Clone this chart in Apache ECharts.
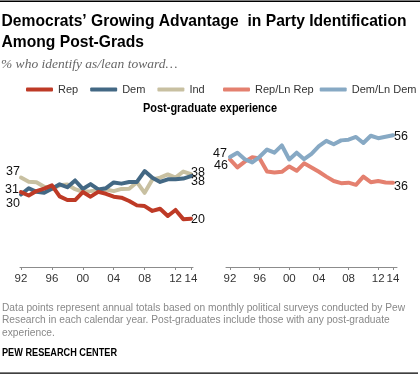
<!DOCTYPE html>
<html><head><meta charset="utf-8">
<script src="https://cdn.jsdelivr.net/npm/echarts@6/dist/echarts.min.js"></script>
<style>html,body{margin:0;padding:0;background:#fff}#c{width:420px;height:375px}</style>
</head><body><div id="c"></div>
<script>
const years = [1992,1993,1994,1995,1996,1997,1998,1999,2000,2001,2002,2003,2004,2005,2006,2007,2008,2009,2010,2011,2012,2013,2014];
const tickYears = [1992,1996,2000,2004,2008,2012,2014];
const rep = [31,29.6,31.4,32.4,33.8,29.2,27.7,27.7,31.0,29.1,31.1,30.3,29.1,28.7,27.3,25.5,25.2,23.2,24.1,21.1,23.6,19.8,20];
const dem = [30,32.6,31.1,30.7,32.4,34.2,33.0,35.8,32.3,34.3,32.1,32.6,35.0,34.5,35.2,35.2,39.7,36.9,35.2,36.3,36.3,36.6,37.6];
const ind = [37,35.3,35.1,33.2,32.3,33.8,34.1,32.2,31.1,31.4,31.8,32.1,31.4,32.3,32.4,35.1,30.7,36.2,37.0,38.3,37.0,39.5,38.4];
const repLean = [46,42.7,45.1,46.9,46.4,41.0,40.6,40.9,43.1,41.3,44.4,42.7,40.9,38.9,37.1,36.2,36.4,35.5,38.9,36.6,37.1,36.5,36.4];
const demLean = [47,48.8,46.1,44.8,47.1,50.1,48.8,51.8,46.0,48.8,46.1,48.3,51.5,53.7,52.3,53.9,54.2,55.3,52.8,55.8,54.8,55.4,56];

const titleLines = ['Democrats’ Growing Advantage  in Party Identification', 'Among Post-Grads'];
const subtitle = '% who identify as/lean toward…';
const panelTitle = 'Post-graduate experience';
const noteLines = ['Data points represent annual totals based on monthly political surveys conducted by Pew', 'Research in each calendar year. Post-graduates include those with any post-graduate', 'experience.'];
const source = 'PEW RESEARCH CENTER';

const SANS = '"Liberation Sans", Arial, sans-serif';
const chart = echarts.init(document.getElementById('c'), null, {renderer:'canvas'});

const mctx = document.createElement('canvas').getContext('2d');
function fit(text, font, target){ mctx.font = font; return target / mctx.measureText(text).width; }

const lblStyle = {color:'#111', fontSize:12.5, fontFamily:SANS, formatter: p => Math.round(p.value[1])};
function withEnds(vals, startLbl, endLbl){
  const d = vals.map((v,i)=>({value:[years[i], v]}));
  if (startLbl) d[0].label = Object.assign({show:true, position:'left'}, lblStyle, startLbl);
  if (endLbl) d[d.length-1].label = Object.assign({show:true, position:'right'}, lblStyle, endLbl);
  return d;
}
function line(name, color, vals, gi, startLbl, endLbl, z){
  return {type:'line', name, xAxisIndex:gi, yAxisIndex:gi, symbol:'circle', symbolSize:0, showSymbol:true, z,
    data: withEnds(vals, startLbl, endLbl),
    label:{show:false},
    lineStyle:{color, width:4, cap:'round', join:'round'}, itemStyle:{color},
    emphasis:{disabled:true}, silent:true};
}
function xAx(gi, min, max){
  return {type:'value', gridIndex:gi, min, max,
    axisLine:{show:true, lineStyle:{color:'#8c8c8c', width:1}},
    axisTick:{show:true, customValues:tickYears, length:3, lineStyle:{color:'#8c8c8c'}},
    axisLabel:{customValues:tickYears, formatter:v=>String(v).slice(2), color:'#333', fontSize:11.5, fontFamily:SANS, margin:6},
    splitLine:{show:false}};
}
const C = {rep:'#BE3A26', dem:'#436884', ind:'#C8C0A1', repL:'#E4806F', demL:'#87A9C4'};

const titleFont = 'bold 17px ' + SANS;
const noteFont = '11.5px ' + SANS;
const srcFont = 'bold 11.5px ' + SANS;
const panelFont = 'bold 12.5px ' + SANS;
const legendText = {fontSize:11, color:'#333', fontFamily:SANS};

chart.setOption({
  animation:false,
  title:[
    {text:subtitle, left:1, top:57, padding:0,
     textStyle:{fontFamily:'"Liberation Serif", serif', fontStyle:'italic', fontWeight:'normal', fontSize:13.5, color:'#666'}}
  ],
  legend:[
    {data:['Rep','Dem','Ind'], left:26, top:84, width:196, padding:0, itemWidth:27, itemHeight:4, itemGap:12, icon:'roundRect',
     textStyle:legendText, selectedMode:false},
    {data:['Rep/Ln Rep','Dem/Ln Dem'], left:223, top:84, width:197, padding:0, itemWidth:27, itemHeight:4, itemGap:6, icon:'roundRect',
     textStyle:legendText, selectedMode:false}
  ],
  grid:[
    {left:20, top:122, width:173, height:145},
    {left:226, top:122, width:171, height:145}
  ],
  xAxis:[xAx(0, 1991.87, 2014.26), xAx(1, 1991.46, 2014.54)],
  yAxis:[
    {type:'value', gridIndex:0, min:0, max:60, show:false},
    {type:'value', gridIndex:1, min:1.5, max:61.5, show:false}
  ],
  series:[
    line('Ind', C.ind, ind, 0, {distance:1, offset:[0,-6]}, {distance:0, offset:[0,-2]}, 2),
    line('Dem', C.dem, dem, 0, {distance:1, offset:[0,9.5]}, {distance:0, offset:[0,5]}, 3),
    line('Rep', C.rep, rep, 0, {distance:2, offset:[0,-3]}, {distance:0, offset:[0,1]}, 4),
    line('Rep/Ln Rep', C.repL, repLean, 1, {distance:2, offset:[0,6.5]}, {distance:1, offset:[0,4]}, 2),
    line('Dem/Ln Dem', C.demL, demLean, 1, {distance:3, offset:[0,-3]}, {distance:1, offset:[0,1]}, 3)
  ],
  graphic:[
    {type:'rect', shape:{x:0, y:0.5, width:420, height:1.5}, style:{fill:'#000'}},
    {type:'rect', shape:{x:0, y:372.5, width:418, height:1.2}, style:{fill:'#000'}},
    {type:'text', x:1.5, y:11, scaleX:fit(titleLines[0], titleFont, 405),
     style:{text:titleLines.join('\n'), font:titleFont, fill:'#000', lineHeight:21, verticalAlign:'top'}},
    {type:'text', x:210, y:102.5, scaleX:fit(panelTitle, panelFont, 134),
     style:{text:panelTitle, font:panelFont, fill:'#000', align:'center', verticalAlign:'top'}},
    {type:'text', x:2, y:301, scaleX:fit(noteLines[0], noteFont, 403),
     style:{text:noteLines.join('\n'), font:noteFont, fill:'#888', lineHeight:12.8, verticalAlign:'top'}},
    {type:'text', x:2, y:346.5, scaleX:fit(source, srcFont, 115),
     style:{text:source, font:srcFont, fill:'#000', verticalAlign:'top'}}
  ]
});
</script></body></html>
